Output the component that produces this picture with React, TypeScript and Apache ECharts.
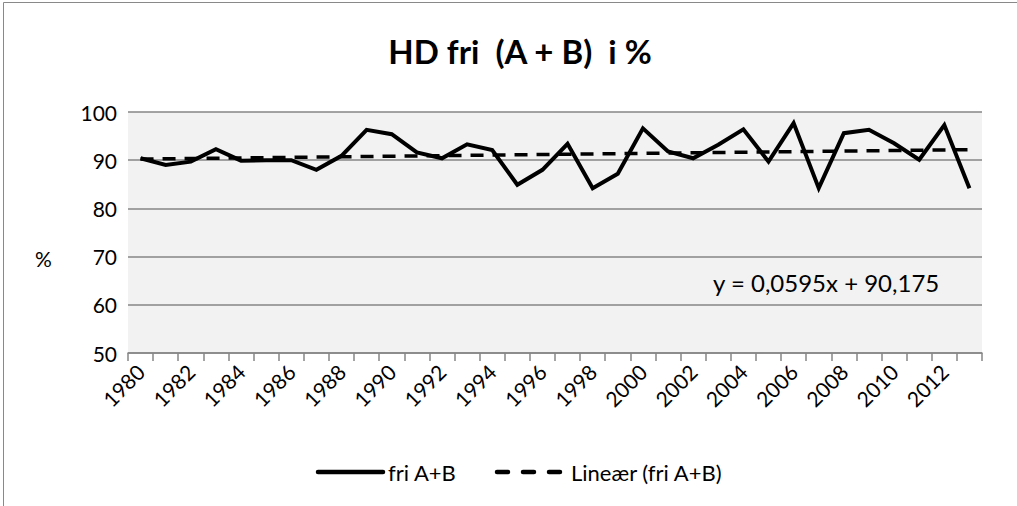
import React, { useEffect, useRef } from "react";
import * as echarts from "echarts";

const years: string[] = [
  "1980", "1981", "1982", "1983", "1984", "1985", "1986", "1987", "1988", "1989",
  "1990", "1991", "1992", "1993", "1994", "1995", "1996", "1997", "1998", "1999",
  "2000", "2001", "2002", "2003", "2004", "2005", "2006", "2007", "2008", "2009",
  "2010", "2011", "2012", "2013",
];

const friAB: number[] = [
  90.4, 89.0, 89.7, 92.3, 89.9, 90.0, 90.0, 88.0, 90.9, 96.3,
  95.4, 91.6, 90.4, 93.3, 92.1, 84.9, 88.0, 93.4, 84.2, 87.2,
  96.6, 91.8, 90.4, 93.2, 96.4, 89.7, 97.7, 84.2, 95.6, 96.3,
  93.5, 90.1, 97.3, 84.2,
];

// Trendline as displayed on the chart: y = 0,0595x + 90,175 (x = 1..n)
const TREND_SLOPE = 0.0595;
const TREND_INTERCEPT = 90.175;
const trendLabel = "y = 0,0595x + 90,175";

const seriesNames = ["fri A+B", "Lineær (fri A+B)"];
const titleText = "HD fri\u00a0\u00a0(A + B)\u00a0\u00a0i %";
const yAxisTitle = "%";

const yTicks = { min: 50, max: 100, interval: 10 };

const FONT = "Lato, 'Open Sans', sans-serif";

export default function App() {
  const ref = useRef<HTMLDivElement>(null);

  useEffect(() => {
    if (!ref.current) return;
    const chart = echarts.init(ref.current, undefined, { renderer: "svg" });
    const trend = years.map((_, i) => +(TREND_INTERCEPT + TREND_SLOPE * (i + 1)).toFixed(4));

    chart.setOption({
      animation: false,
      backgroundColor: "#ffffff",
      textStyle: { fontFamily: FONT, color: "#000" },
      title: {
        text: titleText,
        left: 515,
        top: 29,
        textAlign: "center",
        textStyle: { fontSize: 33, fontWeight: "bold", color: "#000", fontFamily: FONT },
      },
      legend: { show: false },
      grid: { left: 128, right: 35, top: 112, bottom: 153, containLabel: false, show: true, backgroundColor: "#f2f2f2", borderWidth: 0 },
      xAxis: {
        type: "category",
        data: years,
        boundaryGap: true,
        axisLine: { show: true, lineStyle: { color: "#868686", width: 1.5 } },
        axisTick: { show: true, interval: 0, length: 8, lineStyle: { color: "#868686", width: 1.5 } },
        axisLabel: { interval: 1, rotate: 45, fontSize: 21, color: "#000", margin: 15, fontFamily: FONT },
        splitLine: { show: false },
      },
      yAxis: {
        type: "value",
        min: yTicks.min,
        max: yTicks.max,
        interval: yTicks.interval,
        axisLine: { show: false },
        axisTick: { show: false },
        axisLabel: { fontSize: 21, color: "#000", margin: 11, fontFamily: FONT },
        splitLine: { show: true, lineStyle: { color: "#868686", width: 1.5 } },
      },
      series: [
        {
          name: seriesNames[0],
          type: "line",
          data: friAB,
          symbol: "none",
          lineStyle: { color: "#000", width: 4, join: "miter" },
          itemStyle: { color: "#000" },
          z: 3,
        },
        {
          name: seriesNames[1],
          type: "line",
          data: trend,
          symbol: "none",
          lineStyle: { color: "#000", width: 3.5, type: [13, 9] },
          itemStyle: { color: "#000" },
          z: 2,
        },
      ],
      graphic: [
        {
          type: "rect",
          shape: { x: 3.5, y: 2.5, width: 1200, height: 1000 },
          style: { fill: "none", stroke: "#898989", lineWidth: 1 },
          silent: true,
        },
        {
          type: "text",
          x: 713,
          y: 282,
          style: { text: trendLabel, fontSize: 24, fill: "#000", fontFamily: FONT, verticalAlign: "middle" },
        },
        {
          type: "text",
          x: 35,
          y: 258,
          style: { text: yAxisTitle, fontSize: 21, fill: "#000", fontFamily: FONT, verticalAlign: "middle" },
        },
        // legend
        {
          type: "line",
          shape: { x1: 318, y1: 472, x2: 383, y2: 472 },
          style: { stroke: "#000", lineWidth: 4.5, lineCap: "round" },
        },
        {
          type: "text",
          x: 388,
          y: 472,
          style: { text: seriesNames[0], fontSize: 22, fill: "#000", fontFamily: FONT, verticalAlign: "middle" },
        },
        {
          type: "line",
          shape: { x1: 497, y1: 472, x2: 561, y2: 472 },
          style: { stroke: "#000", lineWidth: 4.5, lineCap: "round", lineDash: [11, 15] },
        },
        {
          type: "text",
          x: 571,
          y: 472,
          style: { text: seriesNames[1], fontSize: 22, fill: "#000", fontFamily: FONT, verticalAlign: "middle" },
        },
      ],
    });

    return () => chart.dispose();
  }, []);

  return (
    <div
      ref={ref}
      style={{ position: "fixed", left: 0, top: 0, width: 1017, height: 506 }}
    />
  );
}
